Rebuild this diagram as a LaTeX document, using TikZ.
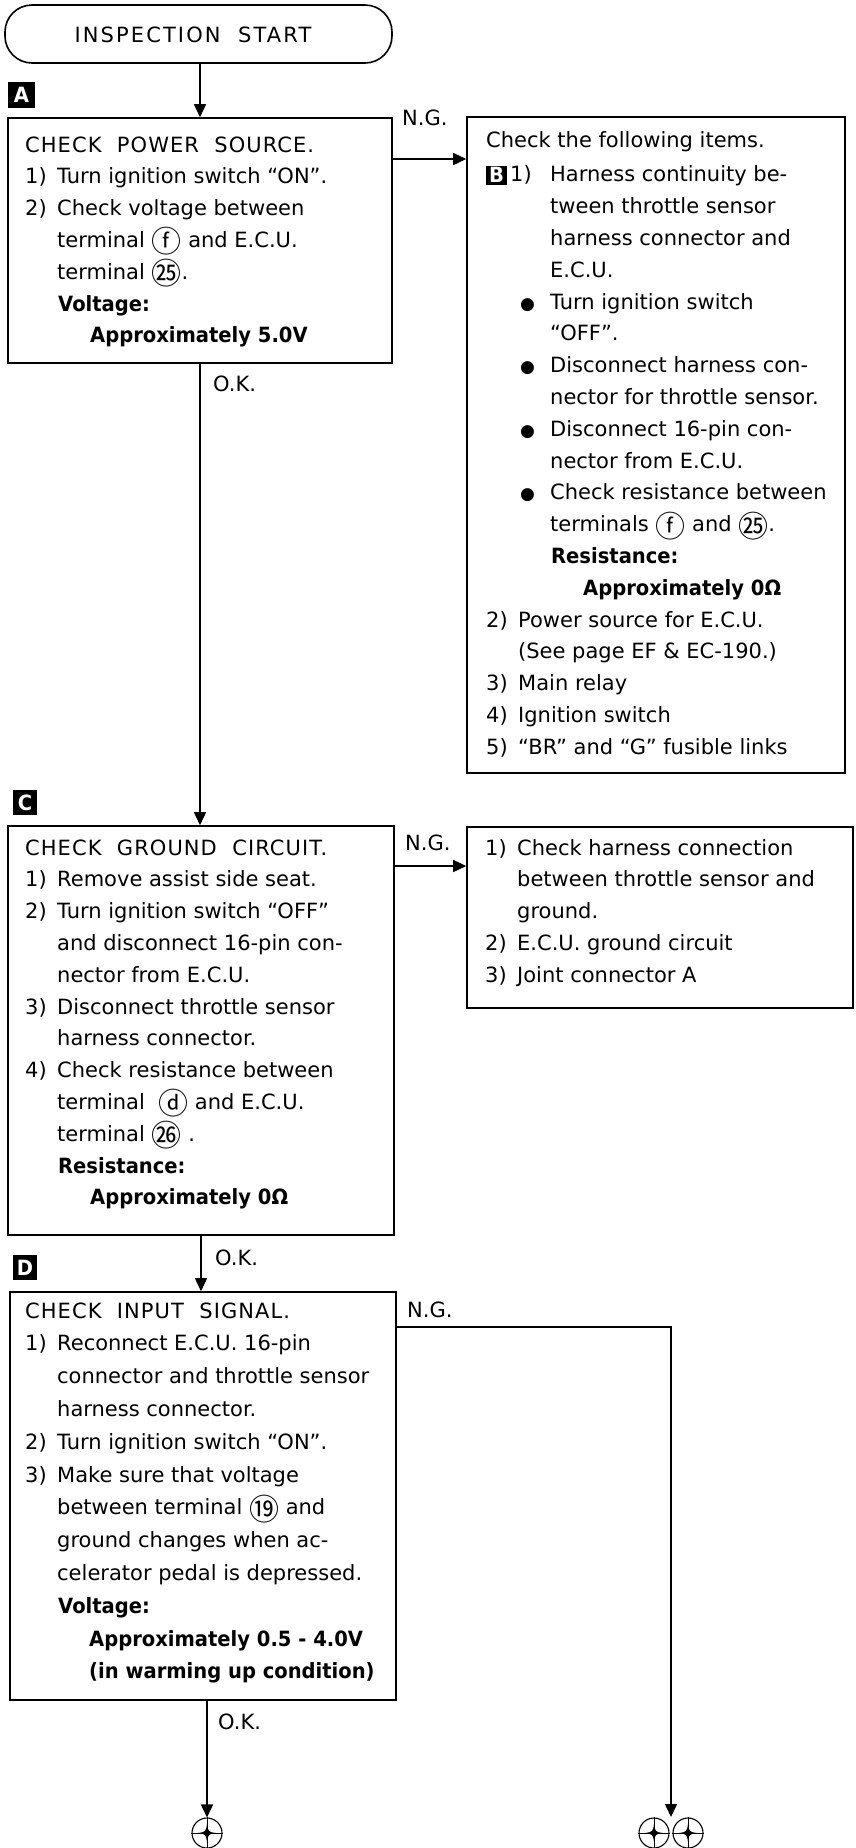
\documentclass[tikz,border=0pt]{standalone}
\usepackage{fontspec}
\setmainfont{DejaVu Sans}[BoldFeatures={FakeStretch=0.93}]
\newfontfamily\circfont{Noto Sans CJK JP}
\usetikzlibrary{arrows.meta}
\newcommand\cir[1]{\raisebox{-5.5pt}{\circfont\fontsize{30}{30}\selectfont #1}}
\newcommand\ind{\hspace*{32pt}}
\newcommand\num[1]{\makebox[32pt][l]{#1}}
\newcommand\bul{{\fontsize{17}{17}\selectfont ●}}
\newcommand\stopmark[2]{%
  \node[endc] (#1) at (#2) {};
  \draw[line width=0.9pt] (#1.north) -- (#1.south) (#1.west) -- (#1.east);
  \fill[shift={(#1.center)}] (0,-9) .. controls (1.2,-1.2) .. (9,0) .. controls (1.2,1.2) .. (0,9)
     .. controls (-1.2,1.2) .. (-9,0) .. controls (-1.2,-1.2) .. (0,-9) -- cycle;
}
\begin{document}
\begin{tikzpicture}[x=1pt,y=-1pt,
  every node/.style={inner sep=0pt, font=\fontsize{21}{31.8}\selectfont},
  box/.style={draw, line width=1.6pt, inner sep=0pt},
  arr/.style={line width=1.5pt, -{Triangle[length=13pt,width=12pt]}},
  lab/.style={fill=black, text=white, inner sep=0pt, font=\bfseries\fontsize{21}{21}\selectfont},
  txt/.style={anchor=base west},
  tag/.style={anchor=base west, font=\fontsize{21}{21}\selectfont},
  endc/.style={circle, draw, line width=1.1pt, minimum size=30pt, inner sep=0pt}]
\useasboundingbox (0,0) rectangle (856,1848);

% start terminal
\node[box, rounded corners=27pt, minimum width=387pt, minimum height=58pt] (start) at (198.5,34) {};
\node[font={\fontsize{21}{21}\selectfont\addfontfeature{LetterSpace=10}}] (starttxt) at (193,35) {INSPECTION\ \ START};

% boxes
\node[box, minimum width=384pt, minimum height=245pt] (boxA) at (200,240.5) {};
\node[box, minimum width=378pt, minimum height=656pt] (boxB) at (656,445) {};
\node[box, minimum width=386pt, minimum height=409pt] (boxC) at (201,1030.5) {};
\node[box, minimum width=386pt, minimum height=181pt] (boxE) at (660,917.5) {};
\node[box, minimum width=386pt, minimum height=408pt] (boxD) at (203,1496) {};

% letter tags
\node[lab, minimum width=27pt, minimum height=26pt] (labA) at (21.5,95) {A};
\node[lab, minimum width=21pt, minimum height=19pt] (labB) at (496.5,175) {B};
\node[lab, minimum width=24pt, minimum height=25pt] (labC) at (25,802.5) {C};
\node[lab, minimum width=24pt, minimum height=25pt] (labD) at (25,1267.5) {D};

% box A text
\node[txt] (tA) at (25,152) {\parbox[t]{370pt}{%
{\addfontfeature{LetterSpace=5}CHECK\ \ POWER\ \ SOURCE.}\\
\num{1)}Turn ignition switch “ON”.\\
\num{2)}Check voltage between\\
\ind terminal \cir{ⓕ} and E.C.U.\\
\ind terminal \cir{㉕}.\\
\hspace*{33pt}\textbf{Voltage:}\\
\hspace*{65pt}\textbf{Approximately 5.0V}}};

% box B text
\node[txt] (tB) at (486,147) {\parbox[t]{360pt}{%
Check the following items.\\[3pt]
\hspace*{24pt}\makebox[40pt][l]{1)}Harness continuity be-\\
\hspace*{64pt}tween throttle sensor\\
\hspace*{64pt}harness connector and\\
\hspace*{64pt}E.C.U.\\
\hspace*{34pt}\makebox[30pt][l]{\bul}Turn ignition switch\\
\hspace*{64pt}“OFF”.\\
\hspace*{34pt}\makebox[30pt][l]{\bul}Disconnect harness con-\\
\hspace*{64pt}nector for throttle sensor.\\
\hspace*{34pt}\makebox[30pt][l]{\bul}Disconnect 16-pin con-\\
\hspace*{64pt}nector from E.C.U.\\
\hspace*{34pt}\makebox[30pt][l]{\bul}Check resistance between\\
\hspace*{64pt}terminals \cir{ⓕ} and \cir{㉕}.\\
\hspace*{65pt}\textbf{Resistance:}\\
\hspace*{97pt}\textbf{Approximately 0Ω}\\
\num{2)}Power source for E.C.U.\\
\ind(See page EF \& EC-190.)\\
\num{3)}Main relay\\
\num{4)}Ignition switch\\
\num{5)}“BR” and “G” fusible links}};

% box C text
\node[txt] (tC) at (25,855) {\parbox[t]{370pt}{%
{\addfontfeature{LetterSpace=5}CHECK\ \ GROUND\ \ CIRCUIT.}\\
\num{1)}Remove assist side seat.\\
\num{2)}Turn ignition switch “OFF”\\
\ind and disconnect 16-pin con-\\
\ind nector from E.C.U.\\
\num{3)}Disconnect throttle sensor\\
\ind harness connector.\\
\num{4)}Check resistance between\\
\ind terminal \ \cir{ⓓ} and E.C.U.\\
\ind terminal \cir{㉖} .\\
\hspace*{33pt}\textbf{Resistance:}\\
\hspace*{65pt}\textbf{Approximately 0Ω}}};

% box C' text
\node[txt] (tE) at (485,855) {\parbox[t]{370pt}{%
\num{1)}Check harness connection\\
\ind between throttle sensor and\\
\ind ground.\\
\num{2)}E.C.U. ground circuit\\
\num{3)}Joint connector A}};

% box D text
\node[txt, font=\fontsize{21}{32.8}\selectfont] (tD) at (25,1318) {\parbox[t]{370pt}{%
{\addfontfeature{LetterSpace=5}CHECK\ \ INPUT\ \ SIGNAL.}\\
\num{1)}Reconnect E.C.U. 16-pin\\
\ind connector and throttle sensor\\
\ind harness connector.\\
\num{2)}Turn ignition switch “ON”.\\
\num{3)}Make sure that voltage\\
\ind between terminal \cir{⑲} and\\
\ind ground changes when ac-\\
\ind celerator pedal is depressed.\\
\hspace*{33pt}\textbf{Voltage:}\\
\hspace*{64pt}\textbf{Approximately 0.5 - 4.0V}\\
\hspace*{64pt}\textbf{(in warming up condition)}}};

% end marks
\stopmark{endA}{207,1833}
\stopmark{endB1}{654,1833}
\stopmark{endB2}{688,1833}
\coordinate (endB) at (671,1817);
\coordinate (dng) at (396,1327);

% connectors
\draw[arr] (boxA.north |- start.south) -- (boxA.north);
\draw[arr] (boxA.south) -- (boxA.south |- boxC.north);
\draw[arr] (boxC.south) -- (boxC.south |- boxD.north);
\draw[arr] (boxD.south -| endA.north) -- (endA.north);
\draw[arr] (boxA.east |- 0,159) -- (boxB.west |- 0,159);
\draw[arr] (boxC.east |- 0,866) -- (boxE.west |- 0,866);
\draw[arr] (dng) -| (endB);

% connector labels
\node[tag] (ngA) at (402,125) {N.G.};
\node[tag] (okA) at (213,391) {O.K.};
\node[tag] (ngC) at (405,850) {N.G.};
\node[tag] (okC) at (215,1265) {O.K.};
\node[tag] (ngD) at (407,1317) {N.G.};
\node[tag] (okD) at (218,1729) {O.K.};
\end{tikzpicture}
\end{document}
